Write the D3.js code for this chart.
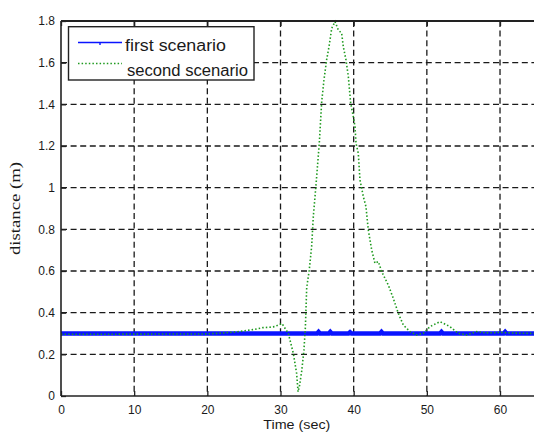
<!DOCTYPE html>
<html>
<head>
<meta charset="utf-8">
<script src="https://cdn.jsdelivr.net/npm/d3@7/dist/d3.min.js"></script>
<style>
  html, body { margin: 0; padding: 0; background: #fff; }
  svg { display: block; }
  text { font-family: "Liberation Sans", Arial, sans-serif; fill: #1a1a1a; }
</style>
</head>
<body>
<svg id="chart" width="534" height="432"></svg>
<script>
// Distance over time for two scenarios
const firstTime  = [0, 35.0, 35.2, 35.4, 36.6, 36.8, 37.0, 39.3, 39.5, 39.7, 43.6, 43.8, 44.0, 51.8, 52.0, 52.2, 60.5, 60.7, 60.9, 65];
const firstDist  = [0.3, 0.3, 0.308, 0.3, 0.3, 0.308, 0.3, 0.3, 0.306, 0.3, 0.3, 0.308, 0.3, 0.3, 0.308, 0.3, 0.3, 0.308, 0.3, 0.3];

const secondTime = [0, 10, 20, 22, 24, 25.1, 26.5, 27.6, 28.5, 29.2, 30.2, 31.07, 31.75, 32.2, 32.4, 32.6, 32.9, 33.2, 33.4, 33.58,
                    33.93, 34.26, 34.48, 34.85, 35.3, 35.63, 35.94, 36.3, 36.63, 37.0, 37.45, 37.9, 38.36, 38.58, 38.95, 39.27,
                    39.59, 39.95, 40.18, 40.32, 40.63, 40.86, 41.32, 41.68, 41.86, 42.0, 42.46, 42.91, 43.37, 43.83, 44.28, 44.73,
                    45.41, 46.1, 46.78, 47.7, 48.61, 49.52, 50.43, 51.8, 53.16, 54.3, 55.45, 56.8, 58, 60, 62, 65];
const secondDist = [0.296, 0.297, 0.298, 0.302, 0.308, 0.313, 0.32, 0.328, 0.33, 0.333, 0.348, 0.30, 0.205, 0.109, 0.02, 0.05, 0.12, 0.22, 0.33, 0.52,
                    0.605, 0.72, 0.86, 1.013, 1.213, 1.413, 1.517, 1.613, 1.677, 1.765, 1.797, 1.757, 1.741, 1.677, 1.613, 1.533,
                    1.405, 1.341, 1.293, 1.213, 1.165, 1.037, 0.957, 0.909, 0.845, 0.797, 0.701, 0.637, 0.645, 0.597, 0.565, 0.533,
                    0.469, 0.397, 0.341, 0.309, 0.293, 0.301, 0.333, 0.357, 0.333, 0.301, 0.293, 0.309, 0.303, 0.305, 0.302, 0.3];

const xTicks = [0, 10, 20, 30, 40, 50, 60];
const yTicks = [0, 0.2, 0.4, 0.6, 0.8, 1, 1.2, 1.4, 1.6, 1.8];
const yTickLabels = ["0", "0.2", "0.4", "0.6", "0.8", "1", "1.2", "1.4", "1.6", "1.8"];
const seriesNames = ["first scenario", "second scenario"];

const svg = d3.select("#chart");
const plot = { left: 61, right: 536.6, top: 21, bottom: 396 };

const x = d3.scaleLinear().domain([0, 65]).range([plot.left, plot.right]);
const y = d3.scaleLinear().domain([0, 1.8]).range([plot.bottom, plot.top]);

// dashed grid
const grid = svg.append("g").attr("stroke", "#1a1a1a").attr("stroke-width", 1.3)
  .attr("stroke-dasharray", "6,3.6");
grid.selectAll("line.v").data(xTicks.filter(d => d > 0)).join("line")
  .attr("x1", d => x(d)).attr("x2", d => x(d))
  .attr("y1", plot.top).attr("y2", plot.bottom);
grid.selectAll("line.h").data(yTicks.filter(d => d > 0 && d < 1.8)).join("line")
  .attr("x1", plot.left).attr("x2", plot.right)
  .attr("y1", d => y(d)).attr("y2", d => y(d));

// series
const line = d3.line().x(d => x(d[0])).y(d => y(d[1]));
const firstData = firstTime.map((t, i) => [t, firstDist[i]]);
const secondData = secondTime.map((t, i) => [t, secondDist[i]]);

const clip = svg.append("clipPath").attr("id", "plotclip").append("rect")
  .attr("x", plot.left).attr("y", plot.top - 2)
  .attr("width", plot.right - plot.left).attr("height", plot.bottom - plot.top + 2);

const series = svg.append("g").attr("clip-path", "url(#plotclip)");
series.append("path").datum(firstData)
  .attr("fill", "none").attr("stroke", "#0a14ff").attr("stroke-width", 4.5)
  .attr("d", line);
series.append("path").datum(secondData)
  .attr("fill", "none").attr("stroke", "#1f9a1f").attr("stroke-width", 1.6)
  .attr("stroke-dasharray", "1.5,2.1")
  .attr("d", line);

// frame
const frame = svg.append("g").attr("stroke", "#222").attr("fill", "none");
frame.append("line").attr("x1", plot.left).attr("x2", plot.right)
  .attr("y1", plot.top).attr("y2", plot.top).attr("stroke-width", 2);
frame.append("line").attr("x1", plot.left).attr("x2", plot.right)
  .attr("y1", plot.bottom).attr("y2", plot.bottom).attr("stroke-width", 1.6);
frame.append("line").attr("x1", plot.left).attr("x2", plot.left)
  .attr("y1", plot.top).attr("y2", plot.bottom).attr("stroke-width", 1.6);

// axes with inward ticks
const xAxis = d3.axisBottom(x).tickValues(xTicks).tickSize(-5).tickPadding(9).tickFormat(d3.format("d"));
const gx = svg.append("g").attr("transform", `translate(0,${plot.bottom})`).call(xAxis);
gx.select(".domain").remove();
gx.selectAll("line").attr("stroke", "#222").attr("stroke-width", 1.3);
gx.selectAll("text").style("font-size", "12px").attr("fill", "#1a1a1a");

const xTop = d3.axisTop(x).tickValues(xTicks).tickSize(-5).tickFormat("");
const gxt = svg.append("g").attr("transform", `translate(0,${plot.top})`).call(xTop);
gxt.select(".domain").remove();
gxt.selectAll("line").attr("stroke", "#222").attr("stroke-width", 1.3);

const yAxis = d3.axisLeft(y).tickValues(yTicks).tickSize(-5).tickPadding(6)
  .tickFormat((d, i) => yTickLabels[i]);
const gy = svg.append("g").attr("transform", `translate(${plot.left},0)`).call(yAxis);
gy.select(".domain").remove();
gy.selectAll("line").attr("stroke", "#222").attr("stroke-width", 1.3);
gy.selectAll("text").style("font-size", "12px").attr("fill", "#1a1a1a");

// axis titles
svg.append("text").attr("x", (plot.left + plot.right) / 2 - 2).attr("y", 429)
  .attr("text-anchor", "middle").style("font-size", "13px")
  .attr("textLength", 67).attr("lengthAdjust", "spacingAndGlyphs")
  .text("Time (sec)");
svg.append("text")
  .attr("transform", `translate(20,${(plot.top + plot.bottom) / 2}) rotate(-90)`)
  .attr("text-anchor", "middle")
  .style("font-family", "'Liberation Serif', 'Times New Roman', serif")
  .style("font-size", "15px")
  .attr("textLength", 93).attr("lengthAdjust", "spacingAndGlyphs")
  .text("distance (m)");

// legend
const legend = svg.append("g");
legend.append("rect").attr("x", 68.5).attr("y", 26.7).attr("width", 185.5).attr("height", 53.3)
  .attr("fill", "#fff").attr("stroke", "#222").attr("stroke-width", 1.4);
legend.append("line").attr("x1", 78).attr("x2", 122).attr("y1", 42.5).attr("y2", 42.5)
  .attr("stroke", "#0a14ff").attr("stroke-width", 1.6);
legend.append("line").attr("x1", 100).attr("x2", 100).attr("y1", 42.5).attr("y2", 45)
  .attr("stroke", "#0a14ff").attr("stroke-width", 1.4);
legend.append("line").attr("x1", 78).attr("x2", 122).attr("y1", 63.5).attr("y2", 63.5)
  .attr("stroke", "#1f9a1f").attr("stroke-width", 1.6).attr("stroke-dasharray", "1.5,2.1");
legend.append("text").attr("x", 125).attr("y", 51)
  .style("font-size", "16px").attr("textLength", 101).attr("lengthAdjust", "spacingAndGlyphs")
  .text(seriesNames[0]);
legend.append("text").attr("x", 127).attr("y", 75.5)
  .style("font-size", "16px").attr("textLength", 121).attr("lengthAdjust", "spacingAndGlyphs")
  .text(seriesNames[1]);
</script>
</body>
</html>
